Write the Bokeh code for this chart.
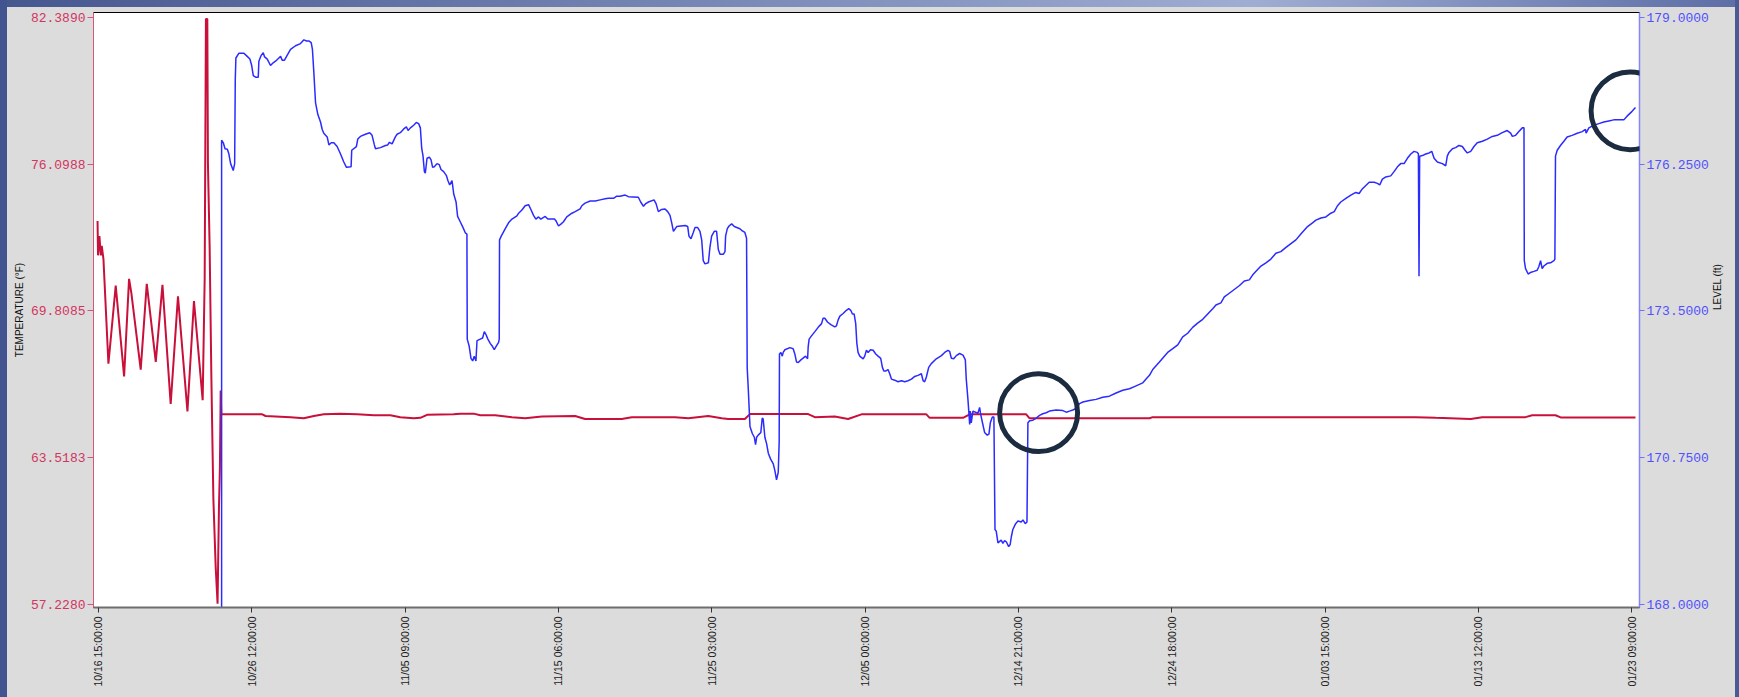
from math import pi
import pandas as pd
from bokeh.plotting import figure
from bokeh.models import (Range1d, LinearAxis, FixedTicker, DatetimeTickFormatter,
                          NumeralTickFormatter, BoxAnnotation, ColumnDataSource,
                          GlobalInlineStyleSheet)
from bokeh.embed import file_html
from bokeh.resources import INLINE

START = "2019-10-16 15:00"

# ---- temperature series (elapsed days since START, deg F) ----
temp_days = [-0.06, -0.03, 0.06, 0.15, 0.21, 0.32, 0.64, 1.11, 1.65, 1.97,
             2.12, 2.72, 3.11, 3.69, 4.12, 4.65, 5.12, 5.73, 6.15, 6.71,
             6.84, 6.92, 7.01, 7.05, 7.16, 7.27, 7.40, 7.55, 7.67, 7.76,
             7.82, 7.87, 7.91, 7.98, 10.55, 10.76, 12.37, 13.22, 13.87, 14.51,
             15.58, 16.66, 17.73, 18.80, 19.44, 20.30, 20.73, 21.16, 22.87, 23.30,
             24.16, 24.59, 25.55, 26.63, 27.48, 28.56, 30.70, 31.34, 33.70, 34.35,
             37.13, 37.99, 39.27, 40.14, 40.56, 41.63, 41.96, 45.71, 46.14, 47.42,
             48.28, 49.14, 53.32, 53.53, 55.68, 56.11, 59.75, 59.97, 67.69, 67.90,
             84.84, 86.13, 88.38, 89.12, 91.91, 92.34, 93.84, 94.17, 98.99]
temp_f = [73.66, 72.19, 73.01, 72.19, 72.60, 72.03, 67.54, 70.89, 67.00, 71.18,
          70.56, 67.29, 70.97, 67.62, 70.92, 65.82, 70.43, 65.50, 70.23, 65.98,
          71.21, 82.32, 82.32, 76.12, 72.52, 66.97, 61.74, 58.80, 57.25, 61.41,
          63.05, 66.39, 65.37, 65.37, 65.37, 65.30, 65.25, 65.20, 65.30, 65.37,
          65.40, 65.37, 65.33, 65.33, 65.25, 65.20, 65.22, 65.35, 65.37, 65.40,
          65.40, 65.33, 65.33, 65.25, 65.20, 65.28, 65.30, 65.17, 65.17, 65.25,
          65.25, 65.20, 65.30, 65.20, 65.17, 65.17, 65.38, 65.38, 65.25, 65.28,
          65.17, 65.37, 65.37, 65.22, 65.22, 65.37, 65.37, 65.20, 65.20, 65.25,
          65.25, 65.22, 65.17, 65.25, 65.25, 65.33, 65.33, 65.24, 65.24]

# ---- level series (elapsed days since START, ft) ----
level_days = [
    7.93, 7.93, 8.04, 8.15, 8.30, 8.40, 8.51, 8.68, 8.77, 8.81,
    8.85, 9.05, 9.37, 9.58, 9.75, 9.86, 9.97, 10.12, 10.29, 10.33,
    10.48, 10.61, 10.70, 10.87, 11.08, 11.25, 11.40, 11.62, 11.73, 11.83,
    11.98, 12.15, 12.37, 12.69, 13.01, 13.23, 13.40, 13.55, 13.70, 13.78,
    13.87, 13.98, 14.13, 14.30, 14.41, 14.51, 14.73, 14.84, 14.99, 15.16,
    15.37, 15.59, 15.80, 15.97, 16.27, 16.31, 16.61, 16.70, 16.87, 17.19,
    17.47, 17.62, 17.77, 17.84, 18.16, 18.48, 18.63, 18.74, 18.91, 19.12,
    19.23, 19.44, 19.66, 19.83, 19.94, 20.09, 20.30, 20.47, 20.62, 20.73,
    20.82, 20.90, 20.99, 21.05, 21.16, 21.31, 21.42, 21.52, 21.63, 21.80,
    21.95, 22.06, 22.23, 22.40, 22.51, 22.62, 22.77, 22.88, 23.03, 23.13,
    23.30, 23.48, 23.63, 23.73, 23.75, 23.88, 23.99, 24.10, 24.20, 24.31,
    24.38, 24.59,
    24.74, 24.85, 24.95, 25.08, 25.23, 25.38, 25.49, 25.60, 25.77, 25.81,
    25.83, 25.94, 26.20, 26.41, 26.63, 26.95, 27.06, 27.27, 27.48, 27.70,
    27.85, 28.02, 28.17, 28.34, 28.49, 28.77, 28.94, 29.37, 29.46, 29.63,
    29.80, 29.95, 30.16, 30.49, 30.70, 31.02, 31.13, 31.34, 31.67, 31.99,
    32.31, 32.63, 32.84, 33.17, 33.38, 33.59, 33.92, 34.13, 34.77, 34.92,
    35.10, 35.25, 35.42, 35.78, 35.91, 36.06, 36.27, 36.49, 36.66, 36.81,
    36.92, 37.03, 37.24, 37.78, 37.95, 38.03, 38.16, 38.31, 38.42, 38.59,
    38.74, 38.85, 38.95, 39.06, 39.28, 39.38, 39.49, 39.66, 39.81, 39.92,
    40.03, 40.24, 40.35, 40.39, 40.50, 40.61, 40.78, 40.95, 41.31, 41.42,
    41.63, 41.74, 41.78, 41.85, 41.96, 42.11, 42.24, 42.32, 42.39, 42.49,
    42.66, 42.75, 42.81, 42.92, 43.03, 43.14, 43.29, 43.46, 43.56, 43.67,
    43.78, 43.84, 43.86, 43.95, 44.04, 44.10, 44.21, 44.53, 44.74, 44.85,
    44.96, 45.07, 45.24, 45.54, 45.67, 45.71, 45.77, 45.92, 46.14, 46.35,
    46.57, 46.67, 46.78, 46.95, 47.17, 47.42, 47.53, 47.64, 47.75, 47.96,
    48.17, 48.32, 48.45, 48.56, 48.67, 48.77, 48.84, 48.92, 49.03, 49.25,
    49.35,
    49.46, 49.57, 49.72, 49.89, 50.06, 50.21, 50.38, 50.49, 50.58, 50.70,
    50.85, 50.96, 51.07, 51.28, 51.50, 51.71, 51.93, 52.14, 52.36, 52.57,
    52.78, 53.00, 53.11, 53.21, 53.32, 53.47, 53.64, 53.96, 54.29, 54.50,
    54.71, 54.82, 54.93, 55.08, 55.25, 55.46, 55.68, 55.83, 55.89, 56.00,
    56.11, 56.15, 56.21, 56.32, 56.64, 56.75, 56.82, 56.92, 57.07, 57.24,
    57.35, 57.44, 57.57, 57.67, 57.74, 57.82, 57.93, 58.14, 58.25, 58.36,
    58.47, 58.62, 58.72, 58.79, 58.89, 59.07, 59.22, 59.43, 59.54, 59.69,
    59.80, 59.86, 59.97, 60.18, 60.40, 60.61, 60.82, 61.04, 61.25, 61.68,
    62.11, 62.33, 62.54, 62.75, 62.97, 63.18, 63.40, 63.83, 64.25, 64.68,
    65.11, 65.54, 65.97, 66.40, 66.72, 67.04, 67.26, 67.47, 67.69, 67.90,
    68.33, 68.65, 68.86, 69.19, 69.51, 69.83, 70.15, 70.47, 70.79, 71.12,
    71.44, 71.76, 71.97, 72.29, 72.51, 72.83, 73.15, 73.47, 73.80, 74.12,
    74.33, 74.55, 74.87, 75.19, 75.51, 75.83, 76.15, 76.48, 76.80, 77.12,
    77.44, 77.87, 78.19, 78.41, 78.73, 79.05, 79.37, 79.59, 79.80, 80.01,
    80.34, 80.66, 80.98, 81.19, 81.41, 81.84, 82.16, 82.37, 82.52, 82.69,
    82.91, 83.23, 83.44, 83.66, 83.87, 84.09, 84.30, 84.52, 84.73, 84.94,
    85.01, 85.05, 85.09, 85.27, 85.48, 85.70, 85.87, 86.02, 86.23, 86.55,
    86.77, 86.87, 86.98, 87.20, 87.41, 87.62, 87.84, 88.01, 88.16, 88.38,
    88.59, 88.80, 89.13, 89.45, 89.77, 90.09, 90.41, 90.73, 90.95, 91.06,
    91.27, 91.48, 91.70, 91.81, 91.83, 91.91, 92.08, 92.23, 92.45, 92.66,
    92.77, 92.88, 92.98, 93.09, 93.31, 93.52, 93.74, 93.80, 93.84, 93.95,
    94.16, 94.38, 94.59, 94.91, 95.24, 95.56, 95.77, 95.81, 95.99, 96.31,
    96.63, 96.95, 97.27, 97.59, 98.24, 98.45, 98.77, 98.99]
level_ft = [
    167.90, 176.70, 176.65, 176.54, 176.53, 176.44, 176.26, 176.13, 176.26, 177.83,
    178.24, 178.33, 178.33, 178.27, 178.22, 178.11, 177.91, 177.88, 177.88, 178.18,
    178.29, 178.34, 178.26, 178.22, 178.10, 178.15, 178.18, 178.24, 178.27, 178.20,
    178.20, 178.29, 178.40, 178.47, 178.51, 178.58, 178.56, 178.56, 178.53, 178.40,
    177.97, 177.40, 177.18, 177.04, 176.90, 176.83, 176.76, 176.61, 176.65, 176.65,
    176.58, 176.44, 176.29, 176.19, 176.20, 176.51, 176.58, 176.72, 176.77, 176.81,
    176.84, 176.79, 176.61, 176.54, 176.56, 176.60, 176.61, 176.66, 176.63, 176.76,
    176.81, 176.84, 176.91, 176.95, 176.88, 176.93, 176.98, 177.03, 177.01, 176.93,
    176.54, 176.41, 176.11, 176.08, 176.36, 176.38, 176.33, 176.19, 176.20, 176.26,
    176.24, 176.15, 176.11, 176.04, 175.94, 175.86, 175.94, 175.69, 175.54, 175.27,
    175.17, 175.06, 174.96, 174.94, 172.97, 172.83, 172.61, 172.56, 172.65, 172.56,
    172.94, 172.97,
    172.99, 173.11, 173.06, 172.97, 172.89, 172.83, 172.77, 172.83, 172.91, 172.97,
    174.83, 174.90, 175.04, 175.15, 175.22, 175.28, 175.33, 175.39, 175.47, 175.49,
    175.40, 175.29, 175.22, 175.26, 175.22, 175.27, 175.22, 175.22, 175.19, 175.09,
    175.13, 175.17, 175.26, 175.33, 175.36, 175.41, 175.47, 175.52, 175.56, 175.56,
    175.58, 175.60, 175.61, 175.61, 175.65, 175.65, 175.67, 175.64, 175.63, 175.54,
    175.46, 175.51, 175.54, 175.58, 175.51, 175.36, 175.40, 175.41, 175.36, 175.29,
    175.15, 174.99, 175.08, 175.10, 175.08, 174.90, 174.85, 174.97, 175.06, 175.06,
    174.99, 174.83, 174.44, 174.38, 174.40, 174.69, 174.90, 174.99, 174.99, 174.65,
    174.56, 174.56, 174.61, 174.90, 175.04, 175.09, 175.13, 175.08, 175.04, 175.01,
    174.97, 174.86, 172.44, 172.04, 171.33, 171.20, 171.13, 170.99, 171.13, 171.17,
    171.22, 171.49, 171.47, 171.13, 171.01, 170.83, 170.72, 170.63, 170.51, 170.33,
    170.47, 171.04, 172.69, 172.72, 172.65, 172.72, 172.77, 172.81, 172.79, 172.69,
    172.54, 172.53, 172.58, 172.65, 172.60, 172.83, 172.97, 173.03, 173.11, 173.19,
    173.26, 173.36, 173.36, 173.29, 173.24, 173.20, 173.22, 173.33, 173.40, 173.45,
    173.51, 173.54, 173.51, 173.44, 173.44, 173.26, 172.90, 172.72, 172.65, 172.60,
    172.65,
    172.76, 172.72, 172.77, 172.76, 172.69, 172.65, 172.61, 172.44, 172.37, 172.37,
    172.40, 172.32, 172.22, 172.20, 172.17, 172.19, 172.17, 172.19, 172.22, 172.27,
    172.29, 172.32, 172.19, 172.17, 172.26, 172.44, 172.51, 172.60, 172.66, 172.72,
    172.76, 172.74, 172.61, 172.60, 172.66, 172.70, 172.67, 172.58, 172.22, 171.83,
    171.37, 171.62, 171.40, 171.62, 171.58, 171.69, 171.56, 171.42, 171.22, 171.17,
    171.19, 171.40, 171.51, 171.51, 169.40, 169.37, 169.15, 169.20, 169.14, 169.19,
    169.17, 169.08, 169.12, 169.26, 169.40, 169.51, 169.56, 169.54, 169.58, 169.51,
    169.54, 171.40, 171.44, 171.45, 171.49, 171.54, 171.57, 171.59, 171.62, 171.64,
    171.63, 171.60, 171.62, 171.64, 171.67, 171.76, 171.79, 171.82, 171.84, 171.88,
    171.90, 171.96, 172.01, 172.04, 172.08, 172.12, 172.15, 172.22, 172.29, 172.40,
    172.54, 172.65, 172.72, 172.79, 172.86, 173.01, 173.08, 173.19, 173.27, 173.34,
    173.44, 173.54, 173.61, 173.65, 173.76, 173.83, 173.90, 173.97, 174.06, 174.08,
    174.17, 174.24, 174.34, 174.40, 174.47, 174.58, 174.61, 174.69, 174.76, 174.83,
    174.94, 175.08, 175.15, 175.20, 175.24, 175.26, 175.33, 175.36, 175.47, 175.54,
    175.61, 175.67, 175.72, 175.70, 175.79, 175.91, 175.91, 175.89, 175.86, 175.97,
    176.01, 176.03, 176.11, 176.20, 176.26, 176.26, 176.36, 176.44, 176.49, 176.47,
    176.44, 174.15, 176.40, 176.41, 176.44, 176.46, 176.49, 176.36, 176.29, 176.26,
    176.22, 176.40, 176.47, 176.54, 176.56, 176.60, 176.58, 176.51, 176.46, 176.49,
    176.58, 176.65, 176.68, 176.72, 176.77, 176.79, 176.84, 176.88, 176.83, 176.77,
    176.79, 176.86, 176.93, 176.93, 174.44, 174.29, 174.19, 174.22, 174.24, 174.26,
    174.33, 174.44, 174.29, 174.34, 174.39, 174.40, 174.44, 174.47, 176.40, 176.51,
    176.60, 176.68, 176.76, 176.79, 176.83, 176.86, 176.90, 176.83, 176.93, 176.98,
    177.01, 177.04, 177.06, 177.08, 177.08, 177.15, 177.24, 177.31]

# ---- axes ticks ----
x_tick_times = ["2019-10-16 15:00", "2019-10-26 12:00", "2019-11-05 09:00",
                "2019-11-15 06:00", "2019-11-25 03:00", "2019-12-05 00:00",
                "2019-12-14 21:00", "2019-12-24 18:00", "2020-01-03 15:00",
                "2020-01-13 12:00", "2020-01-23 09:00"]
temp_ticks = [57.2280, 63.5183, 69.8085, 76.0988, 82.3890]
level_ticks = [168.0, 170.75, 173.5, 176.25, 179.0]

# ---- highlighted spots (elapsed days, ft) ----
highlight_days = [60.55, 98.64]
highlight_level = [171.59, 177.25]

t0 = pd.Timestamp(START)


def to_time(days):
    return (t0 + pd.to_timedelta(days, unit="D")).to_numpy()


def to_ms(ts):
    return pd.Timestamp(ts).value / 1e6


temp_src = ColumnDataSource(dict(t=to_time(temp_days), v=temp_f))
level_src = ColumnDataSource(dict(t=to_time(level_days), v=level_ft))

x_start = t0 - pd.Timedelta(hours=7.7)
x_end = t0 + pd.Timedelta(days=99.25)

page_css = """
html, body { margin: 0; padding: 0; }
body {
  margin: 8px;
  background:
    linear-gradient(to right, #42548f 0, #42548f 7px, transparent 7px,
                    transparent calc(100% - 4px), #4a5a94 calc(100% - 4px)),
    linear-gradient(to right, #45578f, #9fadd3 72%, #5d6ea6) top / 100% 7px no-repeat,
    #dcdcdc;
}
"""

p = figure(width=1723, height=681, x_axis_type="datetime",
           x_range=Range1d(x_start, x_end), y_range=Range1d(57.087, 82.603),
           output_backend="svg", toolbar_location=None,
           min_border_left=85, min_border_right=90, min_border_top=4,
           min_border_bottom=80, background_fill_color="white",
           border_fill_color="#dcdcdc", outline_line_color="black",
           outline_line_width=1)
p.stylesheets = [GlobalInlineStyleSheet(css=page_css)]
p.extra_y_ranges = {"level": Range1d(167.938, 179.093)}
p.xgrid.visible = False
p.ygrid.visible = False

p.line("t", "v", source=temp_src, line_color="#c8103a", line_width=2)
p.line("t", "v", source=level_src, y_range_name="level",
       line_color="#2b2bff", line_width=1.5)

# left axis (temperature)
ly = p.yaxis[0]
ly.ticker = FixedTicker(ticks=temp_ticks)
ly.formatter = NumeralTickFormatter(format="0.0000")
ly.axis_label = "TEMPERATURE (°F)"
ly.axis_label_text_font = "Liberation Sans"
ly.axis_label_text_font_size = "10px"
ly.axis_label_text_font_style = "normal"
ly.axis_label_text_color = "#111111"
ly.axis_label_standoff = 3
ly.major_label_text_font = "Liberation Mono"
ly.major_label_text_font_size = "13px"
ly.major_label_text_color = "#d2355f"
ly.major_label_standoff = 2
ly.major_tick_out = 6
ly.major_tick_in = 0
ly.minor_tick_out = 0
ly.minor_tick_in = 0
ly.axis_line_color = "#d6557a"
ly.major_tick_line_color = "#d6557a"

# right axis (level)
ry = LinearAxis(y_range_name="level")
ry.ticker = FixedTicker(ticks=level_ticks)
ry.formatter = NumeralTickFormatter(format="0.0000")
ry.axis_label = "LEVEL (ft)"
ry.axis_label_text_font = "Liberation Sans"
ry.axis_label_text_font_size = "10px"
ry.axis_label_text_font_style = "normal"
ry.axis_label_text_color = "#111111"
ry.axis_label_standoff = 6
ry.major_label_text_font = "Liberation Mono"
ry.major_label_text_font_size = "13px"
ry.major_label_text_color = "#5050ff"
ry.major_label_standoff = 2
ry.major_tick_out = 5
ry.major_tick_in = 0
ry.minor_tick_out = 0
ry.minor_tick_in = 0
ry.axis_line_color = "#8585ff"
ry.axis_line_width = 1.5
ry.major_tick_line_color = "#7070ff"
if "axis_label_orientation" in ry.properties():
    ry.axis_label_orientation = pi / 2
p.add_layout(ry, "right")

# bottom axis (time)
bx = p.xaxis[0]
bx.ticker = FixedTicker(ticks=[to_ms(s) for s in x_tick_times])
fmt = "%m/%d %H:%M:%S"
bx.formatter = DatetimeTickFormatter(microseconds=fmt, milliseconds=fmt, seconds=fmt,
                                     minsec=fmt, minutes=fmt, hourmin=fmt, hours=fmt,
                                     days=fmt, months=fmt, years=fmt)
bx.major_label_orientation = pi / 2
bx.major_label_text_font = "Liberation Sans"
bx.major_label_text_font_size = "10.5px"
bx.major_label_text_color = "#1a1a1a"
bx.major_label_standoff = 4
bx.major_tick_out = 5
bx.major_tick_in = 0
bx.minor_tick_out = 0
bx.minor_tick_in = 0
bx.axis_line_color = "#6e6e6e"
bx.axis_line_width = 2
bx.major_tick_line_color = "#333333"

# highlight rings
half_x = pd.Timedelta(days=2.51).value / 1e6
half_y = 0.728
for d, lv in zip(highlight_days, highlight_level):
    c = to_ms(t0 + pd.Timedelta(days=d))
    p.add_layout(BoxAnnotation(left=c - half_x, right=c + half_x,
                               bottom=lv - half_y, top=lv + half_y,
                               y_range_name="level", fill_alpha=0,
                               line_color="#1b2b40", line_alpha=1, line_width=5,
                               border_radius=39))

open("out.html", "w").write(file_html(p, INLINE))
